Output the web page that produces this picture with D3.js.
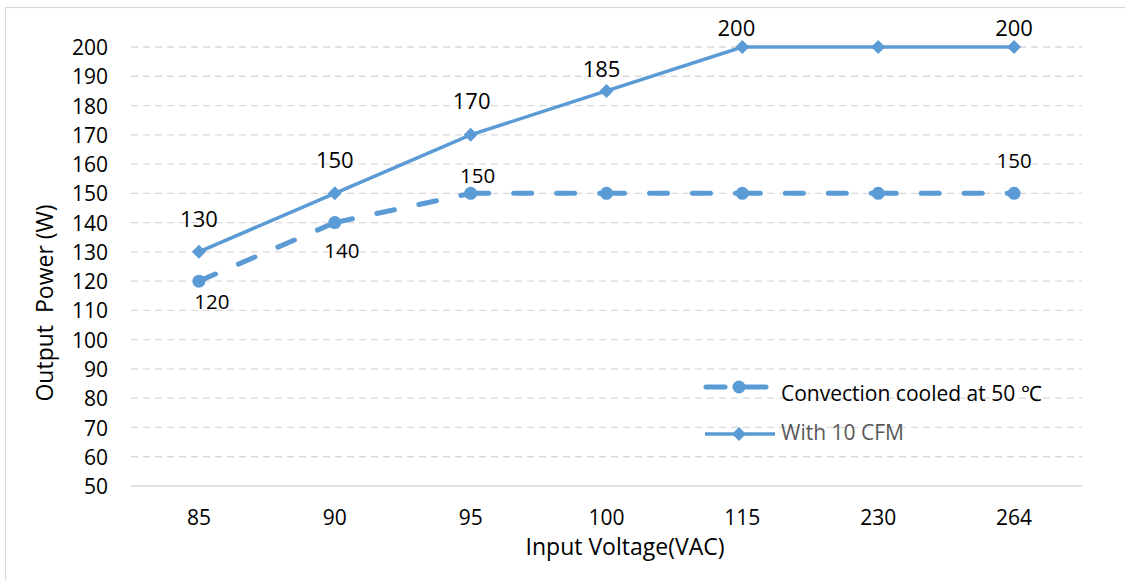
<!DOCTYPE html>
<html lang="en">
<head>
  <meta charset="UTF-8">
  <title>Output Power vs Input Voltage</title>
  <script src="https://d3js.org/d3.v7.min.js"></script>
  <style>
    body { margin: 0; background: #fff; }
    text { font-family: "Open Sans", "Liberation Sans", sans-serif; }
  </style>
</head>
<body>
<script>
// chart data
const voltages = ["85", "90", "95", "100", "115", "230", "264"];
const convection = [120, 140, 150, 150, 150, 150, 150];
const cfm10 = [130, 150, 170, 185, 200, 200, 200];
const yTicks = [50, 60, 70, 80, 90, 100, 110, 120, 130, 140, 150, 160, 170, 180, 190, 200];
// which points carry a value label
const convLabels = [true, true, true, false, false, false, true];
const cfmLabels = [true, true, true, true, true, false, true];
// hand-placed label nudges [dx, dy] from the point to the text baseline
const convLabelPos = [[13, 28], [7, 35], [7, -10], null, null, null, [0, -25]];
const cfmLabelPos = [[0, -25], [0, -25], [1, -26], [-5, -14], [-6, -11], null, [0, -11]];

const W = 1125, H = 580;
const margin = { left: 131, right: 43, top: 47, bottom: 94 };
const blue = "#5B9BD5";

const svg = d3.select("body").append("svg")
  .attr("width", W)
  .attr("height", H);

// outer chart border (right and bottom edges fall outside the picture)
svg.append("rect")
  .attr("x", 5.5).attr("y", 7.5)
  .attr("width", W + 10).attr("height", H + 10)
  .attr("fill", "none").attr("stroke", "#d9d9d9").attr("stroke-width", 1.2);

const x = d3.scaleBand()
  .domain(voltages)
  .range([margin.left, W - margin.right]);

const y = d3.scaleLinear()
  .domain([50, 200])
  .range([H - margin.bottom, margin.top]);

const cx = d => x(d) + x.bandwidth() / 2;

// gridlines
svg.append("g")
  .selectAll("line")
  .data(yTicks.filter(t => t > 50))
  .enter().append("line")
  .attr("x1", margin.left).attr("x2", W - margin.right)
  .attr("y1", d => y(d)).attr("y2", d => y(d))
  .attr("stroke", "#d9d9d9")
  .attr("stroke-width", 1.3)
  .attr("stroke-dasharray", "7,5");

// bottom axis line
svg.append("line")
  .attr("x1", margin.left).attr("x2", W - margin.right)
  .attr("y1", y(50)).attr("y2", y(50))
  .attr("stroke", "#d9d9d9").attr("stroke-width", 1.5);

// y tick labels
const yAxis = svg.append("g")
  .attr("transform", `translate(${margin.left - 23},0)`)
  .call(d3.axisLeft(y).tickValues(yTicks).tickSize(0).tickPadding(0));
yAxis.select(".domain").remove();
yAxis.selectAll("text")
  .attr("font-size", 21)
  .attr("fill", "#000")
  .attr("dy", "0.36em")
  .style("font-family", "'Open Sans', sans-serif");

// x tick labels
const xAxis = svg.append("g")
  .attr("transform", `translate(0,525)`)
  .call(d3.axisBottom(x).tickSize(0).tickPadding(0));
xAxis.select(".domain").remove();
xAxis.selectAll("text")
  .attr("font-size", 21)
  .attr("fill", "#000")
  .attr("y", 0)
  .attr("dy", 0)
  .style("font-family", "'Open Sans', sans-serif");

// axis titles
svg.append("text")
  .attr("x", 625)
  .attr("y", 555)
  .attr("text-anchor", "middle")
  .attr("font-size", 23)
  .text("Input Voltage(VAC)");

svg.append("text")
  .attr("transform", `translate(53,303) rotate(-90)`)
  .attr("text-anchor", "middle")
  .attr("font-size", 23)
  .style("white-space", "pre")
  .text("Output  Power (W)");

// convection cooled series: dashed, each segment restarts its dash
const segs = convection.slice(1).map((v, i) => [
  [cx(voltages[i]), y(convection[i])],
  [cx(voltages[i + 1]), y(v)]
]);
svg.append("g")
  .selectAll("path")
  .data(segs)
  .enter().append("path")
  .attr("d", d3.line())
  .attr("fill", "none")
  .attr("stroke", blue)
  .attr("stroke-width", 5)
  .attr("stroke-linecap", "round")
  .attr("stroke-dasharray", "18,25");

svg.append("g")
  .selectAll("circle")
  .data(convection)
  .enter().append("circle")
  .attr("cx", (d, i) => cx(voltages[i]))
  .attr("cy", d => y(d))
  .attr("r", 6.5)
  .attr("fill", blue);

// 10 CFM series: solid with diamond markers
const line = d3.line()
  .x((d, i) => cx(voltages[i]))
  .y(d => y(d));

svg.append("path")
  .datum(cfm10)
  .attr("d", line)
  .attr("fill", "none")
  .attr("stroke", blue)
  .attr("stroke-width", 3.5);

const diamond = "M0,-7L7,0L0,7L-7,0Z";
svg.append("g")
  .selectAll("path")
  .data(cfm10)
  .enter().append("path")
  .attr("d", diamond)
  .attr("transform", (d, i) => `translate(${cx(voltages[i])},${y(d)})`)
  .attr("fill", blue);

// data labels
svg.append("g")
  .selectAll("text")
  .data(cfm10.map((v, i) => ({ v, i })).filter(d => cfmLabels[d.i]))
  .enter().append("text")
  .attr("x", d => cx(voltages[d.i]) + cfmLabelPos[d.i][0])
  .attr("y", d => y(d.v) + cfmLabelPos[d.i][1])
  .attr("text-anchor", "middle")
  .attr("font-size", 22)
  .text(d => d.v);

svg.append("g")
  .selectAll("text")
  .data(convection.map((v, i) => ({ v, i })).filter(d => convLabels[d.i]))
  .enter().append("text")
  .attr("x", d => cx(voltages[d.i]) + convLabelPos[d.i][0])
  .attr("y", d => y(d.v) + convLabelPos[d.i][1])
  .attr("text-anchor", "middle")
  .attr("font-size", 20.5)
  .text(d => d.v);

// legend
const lg = svg.append("g");
lg.append("line")
  .attr("x1", 706).attr("x2", 725).attr("y1", 387).attr("y2", 387)
  .attr("stroke", blue).attr("stroke-width", 5).attr("stroke-linecap", "round");
lg.append("line")
  .attr("x1", 739).attr("x2", 766).attr("y1", 387).attr("y2", 387)
  .attr("stroke", blue).attr("stroke-width", 5).attr("stroke-linecap", "round");
lg.append("circle").attr("cx", 739).attr("cy", 387).attr("r", 6.5).attr("fill", blue);
lg.append("text")
  .attr("x", 781).attr("y", 401)
  .attr("font-size", 21)
  .attr("fill", "#000")
  .text("Convection cooled at 50 \u2103");

lg.append("line")
  .attr("x1", 705).attr("x2", 775).attr("y1", 434).attr("y2", 434)
  .attr("stroke", blue).attr("stroke-width", 3.5);
lg.append("path")
  .attr("d", diamond)
  .attr("transform", "translate(739,434)")
  .attr("fill", blue);
lg.append("text")
  .attr("x", 781).attr("y", 440)
  .attr("font-size", 21)
  .attr("fill", "#595959")
  .text("With 10 CFM");
</script>
</body>
</html>
